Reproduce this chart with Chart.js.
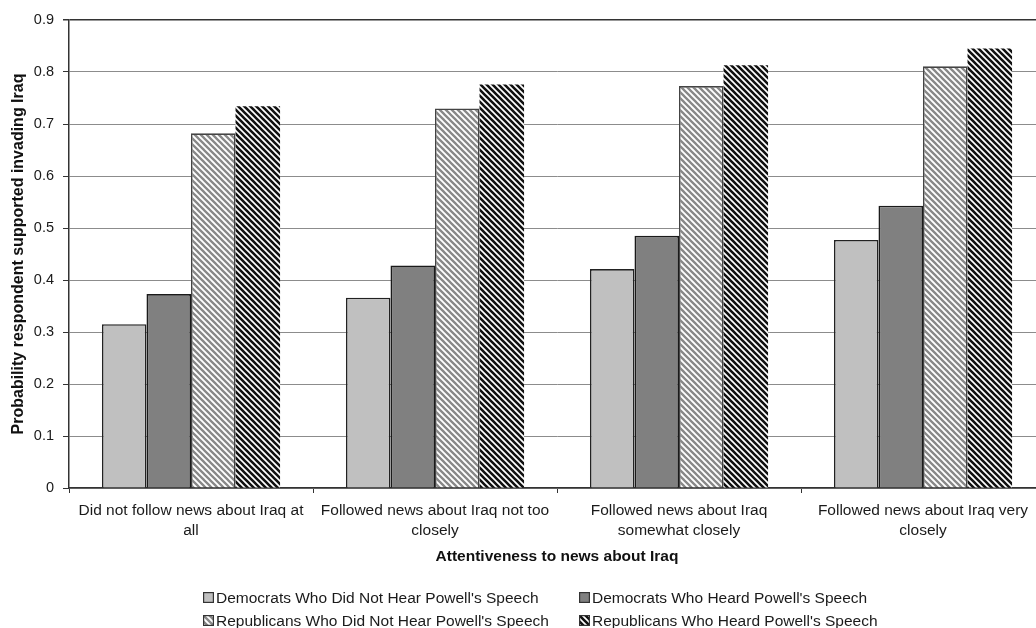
<!DOCTYPE html>
<html>
<head>
<meta charset="utf-8">
<script src="https://cdn.jsdelivr.net/npm/chart.js@4"></script>
<style>
  body { margin: 0; background: #fff; overflow: hidden; width: 1036px; height: 628px; }
  #wrap { position: relative; width: 1036px; height: 628px; overflow: hidden; }
  #myChart { position: absolute; left: 0; top: 0; }
  #legend {
    position: absolute; left: 203px; top: 586px;
    display: grid; grid-template-columns: 376px auto; grid-auto-rows: 23px;
    font-family: "Liberation Sans", Arial, sans-serif; font-size: 15.5px; color: #1a1a1a;
  }
  #legend .item { display: flex; align-items: center; white-space: nowrap; }
  #legend canvas { width: 11px; height: 11px; margin-right: 2px; }
</style>
</head>
<body>
<div id="wrap">
  <canvas id="myChart" width="1046" height="628"></canvas>
  <div id="legend"></div>
</div>
<script>
const categories = [
  ['Did not follow news about Iraq at', 'all'],
  ['Followed news about Iraq not too', 'closely'],
  ['Followed news about Iraq', 'somewhat closely'],
  ['Followed news about Iraq very', 'closely']
];
const seriesNames = [
  "Democrats Who Did Not Hear Powell's Speech",
  "Democrats Who Heard Powell's Speech",
  "Republicans Who Did Not Hear Powell's Speech",
  "Republicans Who Heard Powell's Speech"
];
const demNoSpeech = [0.315, 0.366, 0.421, 0.477];
const demSpeech = [0.373, 0.428, 0.485, 0.543];
const repNoSpeech = [0.682, 0.730, 0.773, 0.811];
const repSpeech = [0.734, 0.776, 0.813, 0.845];
const yTicks = [0, 0.1, 0.2, 0.3, 0.4, 0.5, 0.6, 0.7, 0.8, 0.9];

// diagonal "\" stripes
function makeStripes(ctx, color, width) {
  const s = 6;
  const c = document.createElement('canvas');
  c.width = s; c.height = s;
  const g = c.getContext('2d');
  g.fillStyle = '#fff';
  g.fillRect(0, 0, s, s);
  g.strokeStyle = color;
  g.lineWidth = width;
  g.beginPath();
  for (let k = -1; k <= 1; k++) {
    g.moveTo(k * s - 1, -1);
    g.lineTo(k * s + s + 1, s + 1);
  }
  g.stroke();
  return ctx.createPattern(c, 'repeat');
}

let ctx = document.getElementById('myChart').getContext('2d');
const lightStripes = makeStripes(ctx, '#888', 2.3);
const darkStripes = makeStripes(ctx, '#111', 2.6);

const fills = ['#c0c0c0', '#808080', lightStripes, darkStripes];
const borders = ['#222', '#1a1a1a', '#444', 'rgba(0,0,0,0)'];
const borderWidths = [1.6, 1.6, 1.6, 0];
const values = [demNoSpeech, demSpeech, repNoSpeech, repSpeech];

const font = '"Liberation Sans", Arial, sans-serif';

var myChart = new Chart(ctx, {
  type: 'bar',
  data: {
    labels: categories,
    datasets: values.map((v, i) => ({
      label: seriesNames[i],
      data: v,
      backgroundColor: fills[i],
      borderColor: borders[i],
      borderWidth: borderWidths[i],
      borderSkipped: 'bottom',
      categoryPercentage: 0.73,
      barPercentage: 1.0
    }))
  },
  options: {
    responsive: false,
    animation: false,
    devicePixelRatio: 1,
    layout: { padding: { top: 20, right: 1, bottom: 53, left: 0 } },
    plugins: {
      legend: { display: false },
      tooltip: { enabled: false }
    },
    scales: {
      x: {
        grid: { drawOnChartArea: false, offset: true, tickLength: 5, color: '#333', lineWidth: 1 },
        border: { color: '#333', width: 1.5 },
        ticks: { color: '#1a1a1a', font: { family: font, size: 15.5, lineHeight: 1.29 }, padding: 8, maxRotation: 0, autoSkip: false },
        title: {
          display: true,
          text: 'Attentiveness to news about Iraq',
          color: '#111',
          font: { family: font, size: 15.5, weight: 'bold', lineHeight: 1.2 },
          padding: { top: 0, bottom: 8.7 }
        },
        afterFit: scale => { scale.height = 87; }
      },
      y: {
        min: 0,
        max: 0.9,
        afterBuildTicks: scale => { scale.ticks = yTicks.map(v => ({ value: v })); },
        grid: {
          color: c => c.tick && c.tick.value === 0.9 ? '#333' : '#8c8c8c',
          lineWidth: c => c.tick && c.tick.value === 0.9 ? 1.5 : 1,
          tickColor: '#333',
          tickLength: 6
        },
        border: { color: '#333', width: 1.5 },
        ticks: {
          color: '#1a1a1a',
          font: { family: font, size: 14.5 },
          padding: 9,
          callback: v => v === 0 ? '0' : v.toFixed(1)
        },
        title: {
          display: true,
          text: 'Probability respondent supported invading Iraq',
          color: '#111',
          font: { family: font, size: 16, weight: 'bold', lineHeight: 1.2 },
          padding: { top: 8.9, bottom: 0 }
        },
        afterFit: scale => { scale.width = 69; }
      }
    }
  }
});

// legend, two columns
const legend = document.getElementById('legend');
const order = [0, 1, 2, 3];
order.forEach(i => {
  const item = document.createElement('div');
  item.className = 'item';
  const box = document.createElement('canvas');
  box.width = 11; box.height = 11;
  const b = box.getContext('2d');
  b.fillStyle = i === 2 ? makeStripes(b, '#888', 2.3) : i === 3 ? makeStripes(b, '#111', 2.6) : fills[i];
  b.fillRect(0, 0, 11, 11);
  b.strokeStyle = '#333';
  b.lineWidth = 1.2;
  b.strokeRect(0.6, 0.6, 9.8, 9.8);
  const span = document.createElement('span');
  span.textContent = seriesNames[i];
  item.appendChild(box);
  item.appendChild(span);
  legend.appendChild(item);
});
</script>
</body>
</html>
